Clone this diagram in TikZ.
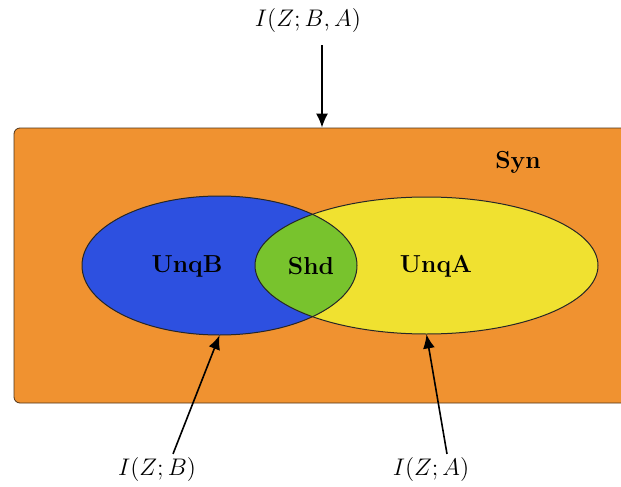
\documentclass[tikz,border=0pt]{standalone}
\usepackage{amsmath, amssymb}
\usepackage{xcolor}
\usepackage{tikz}
\usetikzlibrary{arrows.meta, positioning, shapes.geometric}

\definecolor{synorange}{RGB}{240,146,48}
\definecolor{unqbblue}{RGB}{45,80,224}
\definecolor{unqayellow}{RGB}{240,225,48}
\definecolor{shdgreen}{RGB}{120,195,45}

\begin{document}
\begin{tikzpicture}[
  x=0.5pt, y=-0.5pt,
  venn/.style={ellipse, inner sep=0pt},
  region/.style={font=\fontsize{12.3}{14}\selectfont\bfseries},
  info/.style={font=\fontsize{11.6}{14}\selectfont},
  arr/.style={-{Latex[length=7pt,width=6pt]}, thick}
]
\useasboundingbox (0,0) rectangle (621,487);

% synergy box, wider than the page
\node[draw=black!60!brown, fill=synorange, rounded corners=3pt,
      minimum width=308pt, minimum height=137.5pt, inner sep=0pt] (box) at (322,265.5) {};

\node[venn, fill=unqayellow, minimum width=171.5pt, minimum height=68.5pt] (unqa) at (426.5,265.5) {};
\node[venn, fill=unqbblue, minimum width=137.5pt, minimum height=69.5pt] (unqb) at (219.5,265.5) {};

% shared part
\begin{scope}
  \clip (unqb.center) ellipse [x radius=137.5, y radius=69.5];
  \fill[shdgreen] (unqa.center) ellipse [x radius=171.5, y radius=68.5];
\end{scope}
\draw[black!85, line width=0.5pt] (unqa.center) ellipse [x radius=171.5, y radius=68.5];
\draw[black!85, line width=0.5pt] (unqb.center) ellipse [x radius=137.5, y radius=69.5];

\node[region] (unqbl) at (187,266) {UnqB};
\node[region] (shd) at (311,266) {Shd};
\node[region] (unqal) at (436,266) {UnqA};
\node[region] (syn) at (518,162) {Syn};

\node[info] (iall) at (308,20) {$I(Z;B,A)$};
\node[info] (ib) at (157,469) {$I(Z;B)$};
\node[info] (ia) at (431,469) {$I(Z;A)$};

\draw[arr] (iall.south -| box.north) ++(0,6) -- (box.north);
\draw[arr] (ib.north) ++(16,4) -- (unqb.south);
\draw[arr] (ia.north) ++(16,4) -- (unqa.south);
\end{tikzpicture}
\end{document}
